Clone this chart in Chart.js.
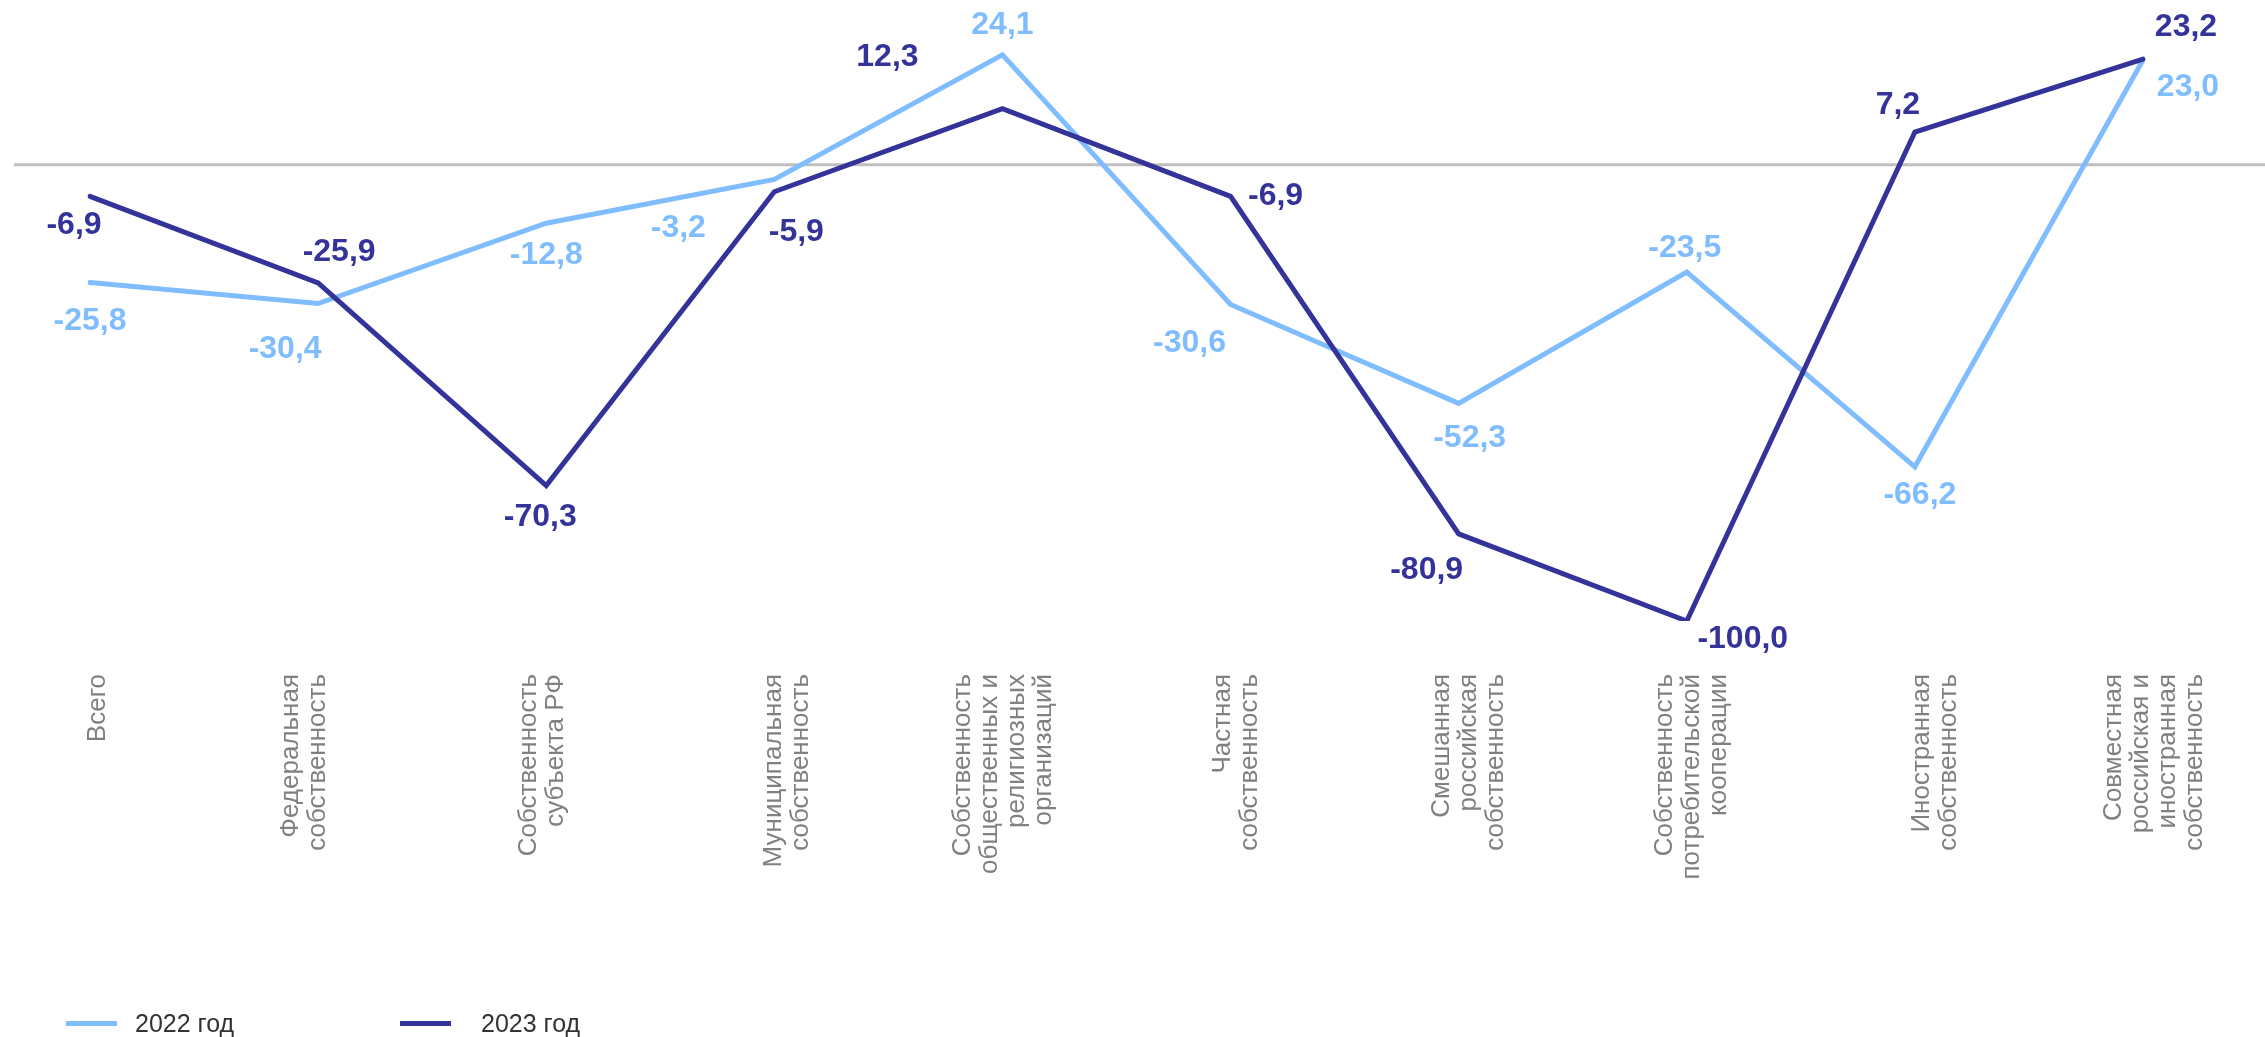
<!DOCTYPE html>
<html>
<head>
<meta charset="utf-8">
<script src="https://cdn.jsdelivr.net/npm/chart.js@4.4.1/dist/chart.umd.min.js"></script>
<style>
  html, body { margin: 0; padding: 0; background: #ffffff; }
  #wrap { position: relative; width: 2265px; height: 1037px; }
  #legend { position: absolute; left: 0; top: 1007px; height: 32px; font-family: "Liberation Sans", Arial, sans-serif; font-size: 25px; color: #333333; }
  .item { position: absolute; top: 0; height: 32px; white-space: nowrap; }
  .sw { position: absolute; top: 14px; width: 51px; height: 5px; }
  .lt { position: absolute; top: 2px; line-height: 28px; }
</style>
</head>
<body>
<div id="wrap">
  <canvas id="c"></canvas>
  <div id="legend"></div>
</div>
<script>
// ---- data ----
const categories = [
  ["Всего"],
  ["Федеральная", "собственность"],
  ["Собственность", "субъекта РФ"],
  ["Муниципальная", "собственность"],
  ["Собственность", "общественных и", "религиозных", "организаций"],
  ["Частная", "собственность"],
  ["Смешанная", "российская", "собственность"],
  ["Собственность", "потребительской", "кооперации"],
  ["Иностранная", "собственность"],
  ["Совместная", "российская и", "иностранная", "собственность"]
];
const seriesNames = ["2022 год", "2023 год"];
const values2022 = [-25.8, -30.4, -12.8, -3.2, 24.1, -30.6, -52.3, -23.5, -66.2, 23.0];
const values2023 = [-6.9, -25.9, -70.3, -5.9, 12.3, -6.9, -80.9, -100.0, 7.2, 23.2];

// ---- styling / label placement (offsets in px) ----
const colors = ["#80BDFF", "#333399"];
const labelOffsets2022 = [[0,39],[-33,46],[0,32],[-96,49],[0,-30],[-41,39],[11,35],[-2,-24],[5,28],[45,27]];
const labelOffsets2023 = [[-16,29],[21,-31],[-6,32],[22,40],[-115,-52],[45,0],[-32,36],[56,18],[-17,-27],[43,-32]];
const categoryLabelShift = [8, -14, -4, 13, 1, 6, 10, 5, 20, 11];

const fmt = v => v.toFixed(1).replace('.', ',');

const zeroLine = {
  id: 'zeroLine',
  beforeDatasetsDraw(chart) {
    const y = chart.scales.y.getPixelForValue(0);
    const ctx = chart.ctx;
    ctx.save();
    ctx.strokeStyle = '#BFBFBF';
    ctx.lineWidth = 3;
    ctx.beginPath();
    ctx.moveTo(14, y);
    ctx.lineTo(chart.width, y);
    ctx.stroke();
    ctx.restore();
  }
};

// category labels, rotated, placed at each tick of the x scale
const xLabels = {
  id: 'xLabels',
  afterDraw(chart) {
    const sc = chart.scales.x;
    const ctx = chart.ctx;
    const lh = 27;
    ctx.save();
    ctx.font = '26px "Liberation Sans", Arial, sans-serif';
    ctx.fillStyle = '#808080';
    ctx.textAlign = 'right';
    ctx.textBaseline = 'middle';
    chart.data.labels.forEach((lines, i) => {
      const x = sc.getPixelForTick(i) + categoryLabelShift[i];
      const y = chart.chartArea.bottom + 53;
      ctx.save();
      ctx.translate(x, y);
      ctx.rotate(-Math.PI / 2);
      const n = lines.length;
      lines.forEach((t, j) => ctx.fillText(t, 0, (j - (n - 1) / 2) * lh));
      ctx.restore();
    });
    ctx.restore();
  }
};

const valueLabels = {
  id: 'valueLabels',
  afterDatasetsDraw(chart) {
    const ctx = chart.ctx;
    const offs = [labelOffsets2022, labelOffsets2023];
    ctx.save();
    ctx.font = 'bold 32px "Liberation Sans", Arial, sans-serif';
    ctx.textAlign = 'center';
    ctx.textBaseline = 'middle';
    chart.data.datasets.forEach((ds, di) => {
      const meta = chart.getDatasetMeta(di);
      ctx.fillStyle = colors[di];
      meta.data.forEach((pt, i) => {
        const o = offs[di][i];
        ctx.fillText(fmt(ds.data[i]), pt.x + o[0], pt.y + o[1]);
      });
    });
    ctx.restore();
  }
};

new Chart(document.getElementById('c'), {
  type: 'line',
  data: {
    labels: categories,
    datasets: [
      { label: seriesNames[0], data: values2022, borderColor: colors[0], backgroundColor: colors[0], borderWidth: 5, pointRadius: 0, tension: 0, order: 2, borderCapStyle: 'round' },
      { label: seriesNames[1], data: values2023, borderColor: colors[1], backgroundColor: colors[1], borderWidth: 5, pointRadius: 0, tension: 0, order: 1, borderCapStyle: 'round' }
    ]
  },
  options: {
    responsive: true,
    maintainAspectRatio: false,
    animation: false,
    layout: { padding: { left: 90, right: 122, top: 28, bottom: 0 } },
    plugins: { legend: { display: false }, tooltip: { enabled: false } },
    scales: {
      y: { display: false, min: -100, max: 30 },
      x: {
        offset: false,
        grid: { display: false, drawTicks: false },
        border: { display: false },
        ticks: { display: false, autoSkip: false },
        afterFit(scale) { scale.paddingLeft = 0; scale.paddingRight = 0; scale.height = 416; }
      }
    }
  },
  plugins: [zeroLine, valueLabels, xLabels]
});

// legend
const legend = document.getElementById('legend');
const legendX = [[66, 135], [400, 481]];
seriesNames.forEach((n, i) => {
  const it = document.createElement('div');
  it.className = 'item';
  it.innerHTML = '<div class="sw" style="left:' + legendX[i][0] + 'px;background:' + colors[i] + '"></div>' +
                 '<div class="lt" style="left:' + legendX[i][1] + 'px">' + n + '</div>';
  legend.appendChild(it);
});
</script>
</body>
</html>
